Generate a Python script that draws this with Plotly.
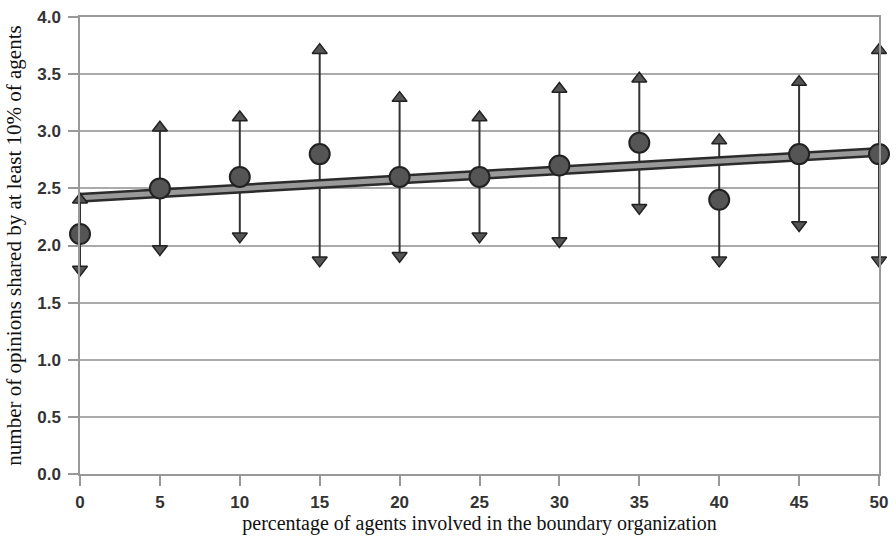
import numpy as np
import plotly.graph_objects as go

# percentage of agents in the boundary organization
pct = [0, 5, 10, 15, 20, 25, 30, 35, 40, 45, 50]
# mean number of shared opinions
mean_val = [2.1, 2.5, 2.6, 2.8, 2.6, 2.6, 2.7, 2.9, 2.4, 2.8, 2.8]
# maximum and minimum across runs
max_val = [2.4, 3.03, 3.12, 3.71, 3.29, 3.12, 3.37, 3.46, 2.92, 3.43, 3.71]
min_val = [1.79, 1.97, 2.08, 1.87, 1.91, 2.08, 2.04, 2.33, 1.87, 2.18, 1.87]

y_ticks = [0.0, 0.5, 1.0, 1.5, 2.0, 2.5, 3.0, 3.5, 4.0]
x_ticks = [0, 5, 10, 15, 20, 25, 30, 35, 40, 45, 50]

dark = "#333333"
fill = "#555555"

fig = go.Figure()

# vertical range lines
seg_x, seg_y = [], []
for x, lo, hi in zip(pct, min_val, max_val):
    seg_x += [x, x, None]
    seg_y += [lo, hi, None]
fig.add_trace(go.Scatter(x=seg_x, y=seg_y, mode="lines",
                         line=dict(color=dark, width=2),
                         hoverinfo="skip", showlegend=False, cliponaxis=False))

# linear trend of the means
slope, intercept = np.polyfit(pct, mean_val, 1)
tx = [pct[0], pct[-1]]
ty = [intercept + slope * v for v in tx]
fig.add_trace(go.Scatter(x=tx, y=ty, mode="lines",
                         line=dict(color="#2b2b2b", width=10),
                         hoverinfo="skip", showlegend=False))
fig.add_trace(go.Scatter(x=tx, y=ty, mode="lines",
                         line=dict(color="#999999", width=5),
                         hoverinfo="skip", showlegend=False))

# range end markers
fig.add_trace(go.Scatter(x=pct, y=max_val, mode="markers",
                         marker=dict(symbol="triangle-up", size=13, color=fill,
                                     line=dict(color="#222222", width=1.5)),
                         showlegend=False, cliponaxis=False))
fig.add_trace(go.Scatter(x=pct, y=min_val, mode="markers",
                         marker=dict(symbol="triangle-down", size=13, color=fill,
                                     line=dict(color="#222222", width=1.5)),
                         showlegend=False, cliponaxis=False))

# means
fig.add_trace(go.Scatter(x=pct, y=mean_val, mode="markers",
                         marker=dict(symbol="circle", size=20, color=fill,
                                     line=dict(color="#222222", width=2)),
                         showlegend=False, cliponaxis=False))

tick_font = dict(family="Liberation Sans, Arial, sans-serif", size=17,
                 color="#333333", weight="bold")
x_title_font = dict(family="Liberation Serif, Times New Roman, serif", size=20, color="#111111")
y_title_font = dict(family="Liberation Serif, Times New Roman, serif", size=21, color="#111111")

fig.update_layout(
    width=896, height=543,
    margin=dict(l=80, r=17, t=17, b=69, autoexpand=False),
    paper_bgcolor="white", plot_bgcolor="white",
    xaxis=dict(range=[0, 50], tickvals=x_ticks, ticktext=[str(v) for v in x_ticks],
               automargin=True, showgrid=False, zeroline=False,
               showline=True, linecolor="#999999", linewidth=1.5, mirror=True,
               ticks="outside", ticklen=10, tickcolor="#999999", tickwidth=1.5,
               tickfont=tick_font, ticklabelstandoff=2,
               title=dict(text="percentage of agents involved in the boundary organization",
                          font=x_title_font, standoff=4)),
    yaxis=dict(range=[0, 4], tickvals=y_ticks, ticktext=[f"{v:.1f}" for v in y_ticks],
               automargin=True, showgrid=True, gridcolor="#aaaaaa", gridwidth=1.5,
               zeroline=False,
               showline=True, linecolor="#999999", linewidth=1.5, mirror=True,
               ticks="outside", ticklen=10, tickcolor="#999999", tickwidth=1.5,
               tickfont=tick_font, ticklabelstandoff=4,
               title=dict(text="number of opinions shared by at least 10% of agents",
                          font=y_title_font, standoff=10)),
)

fig.write_html("out.html")
